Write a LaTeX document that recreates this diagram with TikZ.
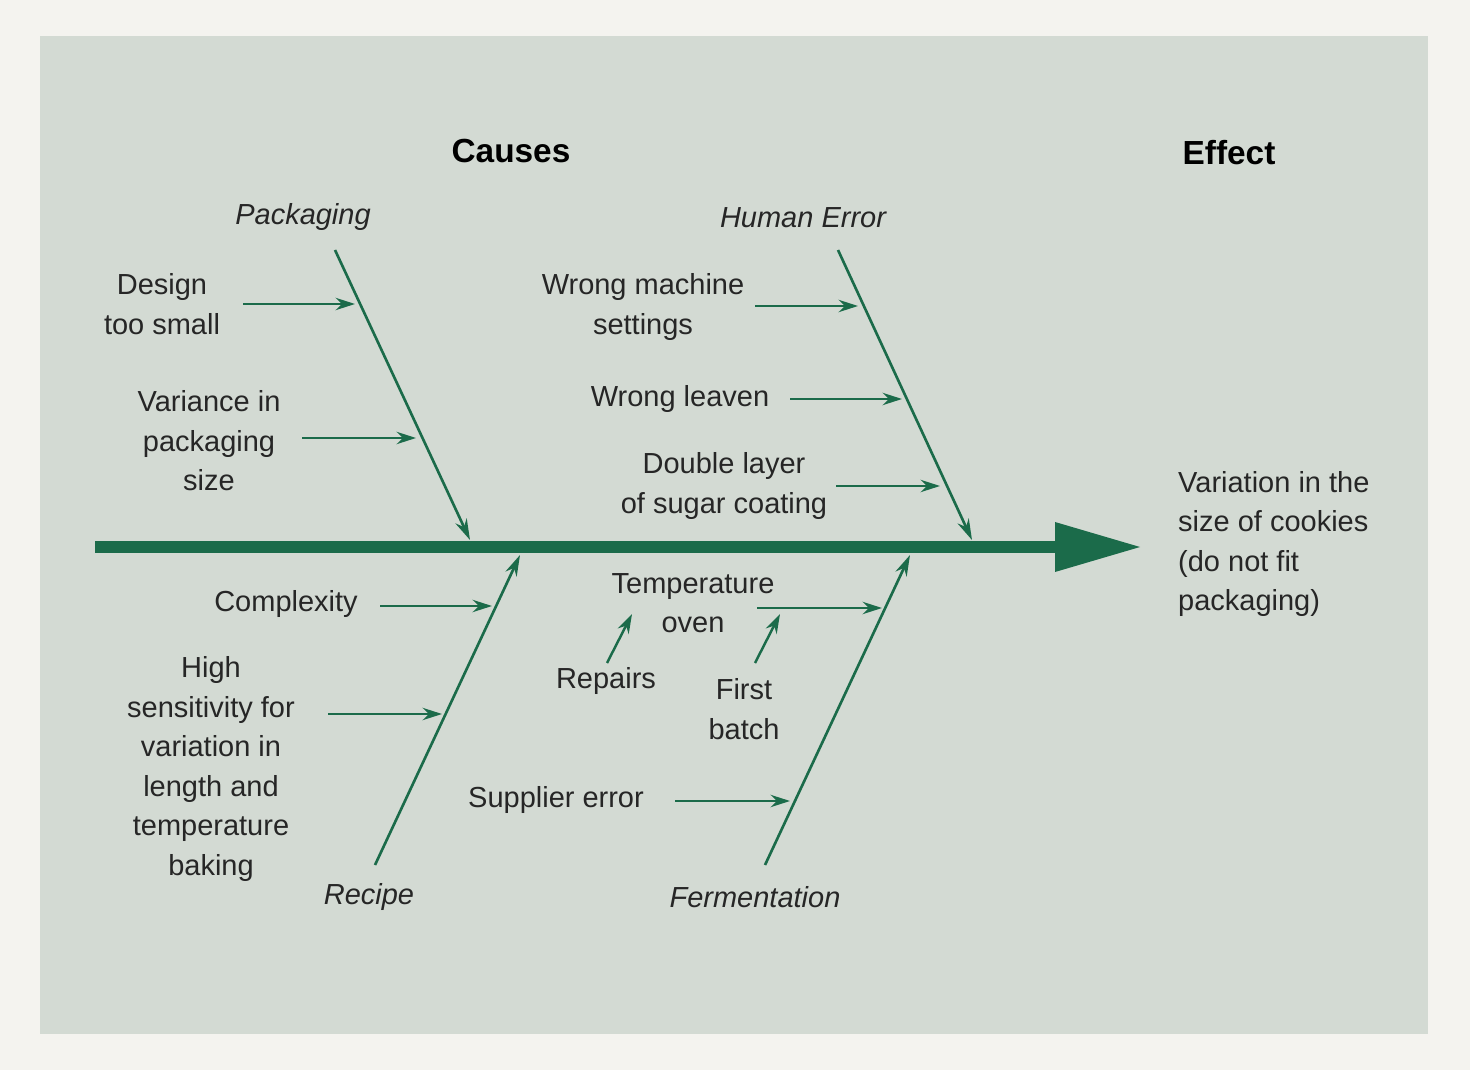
\documentclass[tikz,border=0pt]{standalone}
\usepackage{fontspec}
\setmainfont{Liberation Sans}
\usetikzlibrary{arrows.meta, positioning}
\definecolor{fgreen}{HTML}{1B6B4A}
\definecolor{fpanel}{HTML}{D3DAD3}
\definecolor{fpaper}{HTML}{F4F3EF}
\tikzstyle{label} = [font=\fontsize{16.5}{22.5}\selectfont, align=center, text=black!85]
\tikzstyle{bonename} = [label, font=\fontsize{16.5}{22.5}\selectfont\itshape]
\tikzstyle{title} = [font=\fontsize{19}{23}\selectfont\bfseries, text=black]
\tikzstyle{bone} = [fgreen, line width=1.5pt, -{Stealth[length=12pt,width=7pt]}]
\tikzstyle{twig} = [fgreen, line width=1.4pt, -{Stealth[length=11pt,width=7pt]}]
\begin{document}
\begin{tikzpicture}[x=0.02cm, y=-0.02cm]
  \fill[fpaper] (0,0) rectangle (1470,1070);
  \fill[fpanel] (40,36) rectangle (1428,1034);
  % spine
  \coordinate (tail) at (95,547);
  \coordinate (head) at (1140,547);
  \draw[fgreen, line width=7pt] (tail) -- (1060,547);
  \fill[fgreen] (1055,522) -- (head) -- (1055,572) -- cycle;
  \node (causes) [title] at (511,151) {Causes};
  \node (effect) [title] at (1229,153) {Effect};
  \node (result) [label, align=left, anchor=west] at (1172,544) {Variation in the\\size of cookies\\(do not fit\\packaging)};
  % main bones
  \node (pack) [bonename] at (303,217) {Packaging};
  \node (human) [bonename] at (803,218) {Human Error};
  \node (recipe) [bonename] at (369,897) {Recipe};
  \node (ferment) [bonename] at (755,897) {Fermentation};
  \coordinate (packtop) at (335,250);   \coordinate (packend) at (470,540);
  \coordinate (humtop) at (838,250);    \coordinate (humend) at (972,540);
  \coordinate (rectop) at (375,865);    \coordinate (recend) at (520,555);
  \coordinate (fertop) at (765,865);    \coordinate (ferend) at (910,555);
  \draw [bone] (packtop) -- (packend);
  \draw [bone] (humtop) -- (humend);
  \draw [bone] (rectop) -- (recend);
  \draw [bone] (fertop) -- (ferend);
  % causes
  \node (design) [label] at (162,304) {Design\\too small};
  \node (variance) [label] at (209,441) {Variance in\\packaging\\size};
  \node (machine) [label] at (643,307) {Wrong machine\\settings};
  \node (leaven) [label] at (680,399) {Wrong leaven};
  \node (sugar) [label] at (724,486) {Double layer\\of sugar coating};
  \node (complex) [label] at (286,604) {Complexity};
  \node (sensitive) [label] at (211,769) {High\\sensitivity for\\variation in\\length and\\temperature\\baking};
  \node (oven) [label] at (693,603) {Temperature\\oven};
  \node (repairs) [label] at (606,681) {Repairs};
  \node (first) [label] at (744,709) {First\\batch};
  \node (supplier) [label] at (556,800) {Supplier error};
  \draw [twig] (243,304) -- (355,304);
  \draw [twig] (302,438) -- (416,438);
  \draw [twig] (755,306) -- (858,306);
  \draw [twig] (790,399) -- (902,399);
  \draw [twig] (836,486) -- (940,486);
  \draw [twig] (380,606) -- (492,606);
  \draw [twig] (328,714) -- (442,714);
  \draw [twig] (757,608) -- (882,608);
  \draw [twig] (607,663) -- (632,614);
  \draw [twig] (755,663) -- (780,614);
  \draw [twig] (675,801) -- (790,801);
\end{tikzpicture}
\end{document}
